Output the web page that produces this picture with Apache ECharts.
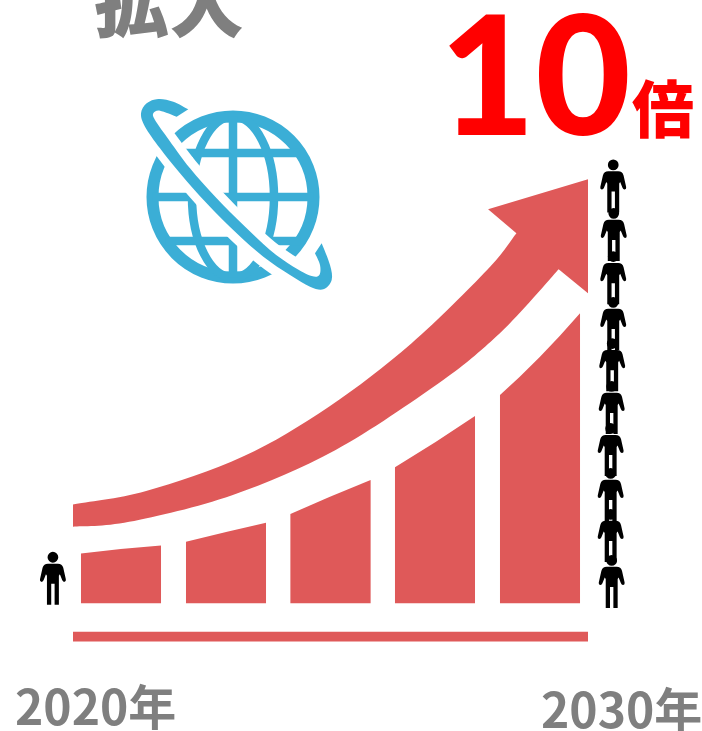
<!DOCTYPE html>
<html>
<head>
<meta charset="utf-8">
<style>html,body{margin:0;padding:0;background:#fff}#chart{width:702px;height:731px}</style>
<script src="https://cdn.jsdelivr.net/npm/echarts@6/dist/echarts.min.js"></script>
</head>
<body>
<div id="chart"></div>
<script>
// Years elapsed since 2020 on x, growth index on y.
const barStart    = [0.155, 2.194, 4.221, 6.252, 8.291];
const barEnd      = [1.709, 3.748, 5.779, 7.806, 9.845];
const barTopLeft  = [1.72, 2.12, 3.08, 4.69, 7.18];
const barTopMid   = [1.87, 2.46, 3.68, 5.55, 8.50];
const barTopRight = [1.99, 2.78, 4.25, 6.46, 10.0];

const arrowUpperX = [0, 1.42, 3.30, 4.97, 6.57, 8.04, 8.61];
const arrowUpperY = [3.41, 3.87, 5.06, 6.78, 8.96, 11.49, 12.76];
const arrowHeadX  = [8.61, 8.06, 10, 10, 9.43];
const arrowHeadY  = [12.76, 13.59, 14.62, 10.69, 11.52];
const arrowLowerX = [9.43, 8.77, 8.11, 7.10, 5.10, 3.09, 1.09, 0];
const arrowLowerY = [11.52, 10.20, 9.02, 7.59, 5.29, 3.73, 2.81, 2.64];

const stripTop = -0.98;
const stripBottom = -1.32;

const peopleBeforeX = [-0.39];
const peopleBeforeY = [0.86];
const peopleAfterX  = [10.49, 10.50, 10.49, 10.49, 10.47, 10.46, 10.44, 10.44, 10.44, 10.46];
const peopleAfterY  = [14.39, 12.72, 11.23, 9.65, 8.23, 6.75, 5.30, 3.75, 2.34, 0.75];

const startLabel = '2020年';
const endLabel = '2030年';
const headline = '拡大';
const multipleNumber = '10';
const multipleUnit = '倍';

const RED = '#DF5959';
const BLUE = '#3BAED6';
const GREY = '#7F7F7F';
const CJK = '"Noto Sans CJK JP"';

const PERSON = 'path://M13 0A5.4 5.4 0 1 1 13 10.8A5.4 5.4 0 1 1 13 0Z' +
  'M8 11.8L18 11.8Q22.2 11.8 23.4 16L26 27.5Q26.4 29.8 24.6 30Q23 30.2 22.3 28.2L20 22.5L19 24L19 53L14.7 53L14.7 32L11.3 32L11.3 53L7 53L7 24L6 22.5L3.7 28.2Q3 30.2 1.4 30Q-.4 29.8 0 27.5L2.6 16Q3.8 11.8 8 11.8Z';

// Orbit band outline of the globe icon, in icon units (one third of a pixel).
const ORBIT_OUTER = [[175,58],[130,35],[85,27],[50,40],[33,70],[45,110],[90,175],[150,250],[230,340],[320,430],[400,500],[480,555],[540,590],[580,598],[605,570],[600,525],[575,460]];
const ORBIT_INNER = [[555,490],[570,525],[568,555],[545,558],[490,530],[420,480],[340,405],[260,325],[180,235],[110,140],[75,90],[70,70],[90,62],[140,80]];
const ORBIT_SPINE = [[58,100],[100,155],[165,240],[245,332],[330,418],[410,490],[485,542],[545,574]];

// Smooth cubic segments through a run of canvas points.
function smoothSegments(pts) {
  let d = '';
  for (let i = 0; i < pts.length - 1; i++) {
    const p0 = pts[Math.max(i - 1, 0)], p1 = pts[i], p2 = pts[i + 1], p3 = pts[Math.min(i + 2, pts.length - 1)];
    const c1 = [p1[0] + (p2[0] - p0[0]) / 6, p1[1] + (p2[1] - p0[1]) / 6];
    const c2 = [p2[0] - (p3[0] - p1[0]) / 6, p2[1] - (p3[1] - p1[1]) / 6];
    d += 'C' + c1 + ' ' + c2 + ' ' + p2;
  }
  return d;
}

function renderBar(params, api) {
  const i = params.dataIndex;
  const base0 = api.coord([barStart[i], 0]);
  const base1 = api.coord([barEnd[i], 0]);
  const a = api.coord([barStart[i], barTopLeft[i]]);
  const m = api.coord([(barStart[i] + barEnd[i]) / 2, barTopMid[i]]);
  const b = api.coord([barEnd[i], barTopRight[i]]);
  const ctrl = [2 * m[0] - (a[0] + b[0]) / 2, 2 * m[1] - (a[1] + b[1]) / 2];
  return {
    type: 'path',
    shape: { pathData: 'M' + base0 + 'L' + a + 'Q' + ctrl + ' ' + b + 'L' + base1 + 'Z' },
    style: { fill: RED }
  };
}

function renderArrow(params, api) {
  const upper = arrowUpperX.map((x, i) => api.coord([x, arrowUpperY[i]]));
  const head = arrowHeadX.map((x, i) => api.coord([x, arrowHeadY[i]]));
  const lower = arrowLowerX.map((x, i) => api.coord([x, arrowLowerY[i]]));
  const d = 'M' + upper[0] + smoothSegments(upper) +
    head.slice(1).map(p => 'L' + p).join('') +
    smoothSegments(lower) + 'Z';
  return { type: 'path', shape: { pathData: d }, style: { fill: RED } };
}

function renderStrip(params, api) {
  const p0 = api.coord([0, stripTop]);
  const p1 = api.coord([10, stripBottom]);
  return { type: 'rect', shape: { x: p0[0], y: p0[1], width: p1[0] - p0[0], height: p1[1] - p0[1] }, style: { fill: RED } };
}

// Globe icon: ring, meridians, parallels, then the orbit band over them.
function renderGlobe() {
  const cx = 233, cy = 197, R = 80.5;
  const line = { stroke: BLUE, lineWidth: 8.5, fill: null };
  const items = [
    { type: 'circle', shape: { cx, cy, r: R }, style: { stroke: BLUE, lineWidth: 12, fill: null } },
    { type: 'ellipse', shape: { cx, cy, rx: 41, ry: R }, style: line },
    { type: 'line', shape: { x1: cx, y1: cy - R, x2: cx, y2: cy + R }, style: line }
  ];
  [-44, 0, 44].forEach(dy => {
    const half = Math.sqrt(R * R - dy * dy);
    items.push({ type: 'line', shape: { x1: cx - half, y1: cy + dy, x2: cx + half, y2: cy + dy }, style: line });
  });
  const place = p => [130 + p[0] / 3, 90 + p[1] / 3];
  items.push({ type: 'polyline', shape: { points: ORBIT_SPINE.map(place), smooth: 0.3 }, style: { stroke: '#fff', lineWidth: 28, fill: null } });
  const outer = ORBIT_OUTER.map(place), inner = ORBIT_INNER.map(place);
  items.push({
    type: 'path',
    shape: { pathData: 'M' + outer[0] + smoothSegments(outer) + 'L' + inner[0] + smoothSegments(inner) + 'Z' },
    style: { fill: BLUE }
  });
  return { type: 'group', children: items };
}

function label(text, x, y, size, color, family, weight) {
  return {
    type: 'text', x, y,
    style: { text, fill: color, font: weight + ' ' + size + 'px ' + family, textAlign: 'left', textVerticalAlign: 'middle' },
    z: 10
  };
}

const chart = echarts.init(document.getElementById('chart'), null, { renderer: 'canvas', width: 702, height: 731 });
chart.setOption({
  animation: false,
  backgroundColor: '#fff',
  grid: { left: 73, top: 168.3, width: 515, height: 493 },
  xAxis: { type: 'value', min: 0, max: 10, show: false },
  yAxis: { type: 'value', min: -2, max: 15, show: false },
  series: [
    { type: 'custom', clip: false, coordinateSystem: 'cartesian2d', renderItem: renderStrip, data: [[0, stripTop]], silent: true },
    { type: 'custom', clip: false, coordinateSystem: 'cartesian2d', renderItem: renderBar, data: barStart.map((x, i) => [x, barTopRight[i]]), silent: true },
    { type: 'custom', clip: false, coordinateSystem: 'cartesian2d', renderItem: renderArrow, data: [[0, arrowUpperY[0]]], silent: true },
    { type: 'custom', clip: false, coordinateSystem: 'cartesian2d', renderItem: renderGlobe, data: [[0, 0]], silent: true },
    {
      type: 'scatter', clip: false, silent: true, symbol: PERSON, symbolSize: [26, 53],
      itemStyle: { color: '#000', opacity: 1 },
      data: peopleBeforeX.map((x, i) => [x, peopleBeforeY[i]]).concat(peopleAfterX.map((x, i) => [x, peopleAfterY[i]]))
    }
  ],
  graphic: [
    label(headline, 94, 2, 75, GREY, CJK, 900),
    label(multipleNumber, 439.5, 82, 165, '#FF0000', 'Lato', 900),
    label(multipleUnit, 632, 109, 62, '#FF0000', CJK, 900),
    label(startLabel, 15, 707, 48, GREY, CJK, 700),
    label(endLabel, 541, 710, 48, GREY, CJK, 700)
  ]
});
</script>
</body>
</html>
